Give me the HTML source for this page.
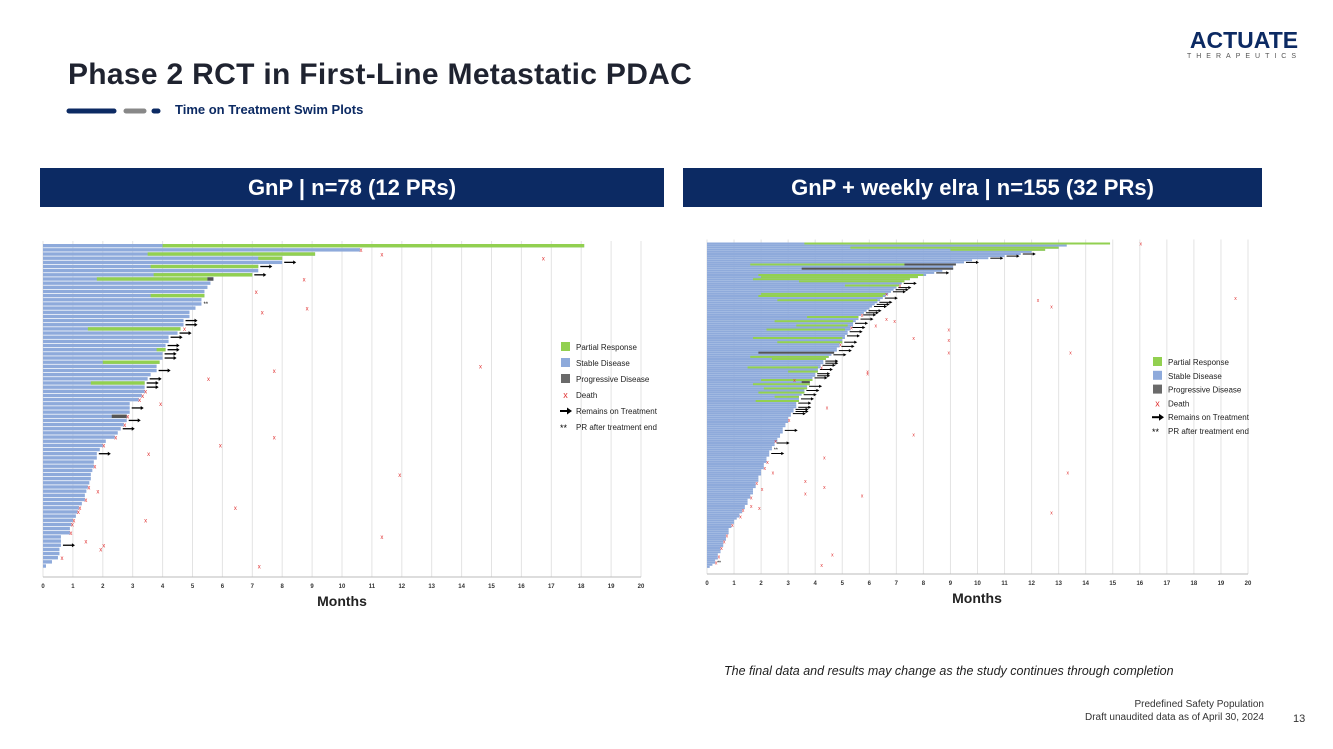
<!DOCTYPE html>
<html><head><meta charset="utf-8"><style>
body{margin:0;width:1333px;height:749px;background:#fff;font-family:"Liberation Sans",sans-serif;position:relative;overflow:hidden}
.abs{position:absolute}
.hdr{position:absolute;background:#0c2a63;color:#fff;font-weight:bold;font-size:22px;text-align:center;line-height:39px;height:39px;top:168px}
</style></head><body>
<div class="abs" style="left:68px;top:58px;font-size:30px;font-weight:bold;color:#1f2330;letter-spacing:0.3px">Phase 2 RCT in First-Line Metastatic PDAC</div>
<svg class="abs" style="left:66px;top:107px" width="100" height="8"><line x1="3" y1="4" x2="48" y2="4" stroke="#0c2a63" stroke-width="5" stroke-linecap="round"/><line x1="60" y1="4" x2="78" y2="4" stroke="#888" stroke-width="5" stroke-linecap="round"/><line x1="88" y1="4" x2="92" y2="4" stroke="#0c2a63" stroke-width="5" stroke-linecap="round"/></svg>
<div class="abs" style="left:175px;top:102px;font-size:13px;font-weight:bold;color:#0c2a63">Time on Treatment Swim Plots</div>
<div class="abs" style="left:1186px;top:28px;width:116px;text-align:center;color:#0c2a63"><div style="font-size:23px;font-weight:bold;line-height:25px">ACTUATE</div><div style="font-size:7px;letter-spacing:5px;color:#555">THERAPEUTICS</div></div>
<div class="hdr" style="left:40px;width:624px">GnP | n=78 (12 PRs)</div>
<div class="hdr" style="left:683px;width:579px">GnP + weekly elra | n=155 (32 PRs)</div>
<svg id="chart" class="abs" style="left:0;top:0" width="1333" height="749"></svg>
<div class="abs" style="left:724px;top:664px;font-size:12.5px;font-style:italic;color:#222">The final data and results may change as the study continues through completion</div>
<div class="abs" style="left:1000px;top:698px;width:264px;text-align:right;font-size:10px;color:#333;line-height:13px">Predefined Safety Population<br>Draft unaudited data as of April 30, 2024</div>
<div class="abs" style="left:1293px;top:713px;font-size:11px;color:#333">13</div>
<script>
const ticks=[0,1,2,3,4,5,6,7,8,9,10,11,12,13,14,15,16,17,18,19,20];
const legendLabels=["Partial Response","Stable Disease","Progressive Disease","Death","Remains on Treatment","PR after treatment end"];
// Left: GnP
const leftTotal=[18.1,10.6,9.1,8.0,8.0,7.2,7.2,7.0,5.7,5.6,5.5,5.4,5.4,5.3,5.3,5.1,4.9,4.9,4.7,4.7,4.6,4.5,4.2,4.2,4.1,4.1,4.0,4.0,3.9,3.8,3.8,3.6,3.5,3.4,3.4,3.4,3.3,3.2,2.9,2.9,2.9,2.8,2.8,2.7,2.6,2.5,2.4,2.1,2.0,1.9,1.8,1.8,1.7,1.7,1.65,1.6,1.6,1.55,1.5,1.45,1.4,1.4,1.3,1.2,1.15,1.1,1.0,0.95,0.9,0.9,0.6,0.6,0.6,0.55,0.55,0.5,0.3,0.1];
const leftPR=[[1,4.0,18.1],[3,3.5,9.1],[4,7.2,8.0],[6,3.6,7.2],[8,3.7,7.0],[9,1.8,5.5],[13,3.6,5.4],[21,1.5,4.6],[26,3.8,4.1],[29,2.0,3.9],[34,1.6,3.4]];
const leftPD=[[9,5.5,5.7],[42,2.3,2.8]];
const leftArrows=[5,6,8,19,20,22,23,25,26,27,28,31,33,34,35,40,43,45,51,73];
const leftDeaths=[[2,10.6],[3,11.3],[4,16.7],[9,8.7],[12,7.1],[16,8.8],[17,7.3],[21,4.7],[30,14.6],[31,7.7],[33,5.5],[36,3.4],[37,3.3],[38,3.2],[39,3.9],[42,2.8],[44,2.7],[47,2.4],[47,7.7],[49,2.0],[49,5.9],[51,3.5],[54,1.7],[56,11.9],[59,1.5],[60,1.8],[62,1.4],[64,6.4],[64,1.2],[65,1.15],[67,1.0],[67,3.4],[68,0.95],[70,0.9],[71,11.3],[72,1.4],[73,2.0],[74,1.9],[76,0.6],[78,7.2]];
const leftDouble=[15];
// Right: GnP + weekly elra
const rightTotal=[14.9,13.3,13.0,12.5,12.0,11.6,11.0,10.4,9.8,9.5,9.2,9.1,9.1,8.7,8.4,8.1,7.8,7.5,7.3,7.2,7.1,7.0,6.9,6.8,6.7,6.6,6.5,6.4,6.3,6.2,6.1,6.0,5.9,5.8,5.7,5.6,5.6,5.5,5.4,5.4,5.3,5.3,5.2,5.2,5.1,5.1,5.0,5.0,4.9,4.9,4.8,4.8,4.7,4.6,4.5,4.4,4.3,4.3,4.2,4.2,4.1,4.1,4.0,4.0,3.9,3.9,3.8,3.8,3.7,3.7,3.6,3.6,3.5,3.4,3.4,3.4,3.3,3.3,3.3,3.2,3.2,3.1,3.1,3.0,3.0,3.0,2.9,2.9,2.8,2.8,2.8,2.7,2.7,2.6,2.6,2.5,2.5,2.4,2.4,2.3,2.3,2.3,2.2,2.2,2.2,2.1,2.1,2.1,2.0,2.0,2.0,1.9,1.9,1.9,1.8,1.8,1.8,1.7,1.7,1.7,1.6,1.6,1.5,1.5,1.5,1.4,1.4,1.3,1.3,1.2,1.2,1.1,1.0,1.0,0.9,0.9,0.8,0.8,0.8,0.7,0.7,0.7,0.6,0.6,0.6,0.5,0.5,0.5,0.4,0.4,0.4,0.3,0.3,0.2,0.1];
const rightPR=[[1,3.6,14.9],[3,5.3,13.0],[4,9.0,12.5],[11,1.6,7.3],[16,1.9,8.0],[17,2.0,7.8],[18,1.7,7.5],[19,3.4,7.3],[21,5.1,7.1],[25,2.0,6.6],[26,1.9,6.5],[28,2.6,6.3],[36,3.7,5.6],[38,2.5,5.4],[40,3.3,5.2],[42,2.2,5.1],[46,1.7,5.0],[48,2.6,5.0],[55,1.6,4.5],[56,2.4,4.4],[60,1.5,4.1],[62,3.0,4.1],[66,2.0,3.9],[68,1.7,3.8],[70,2.1,3.7],[72,1.9,3.6],[74,2.5,3.4],[76,1.8,3.4]];
const rightPD=[[11,7.3,9.2],[13,3.5,9.1],[53,1.9,4.7],[67,3.5,3.8]];
const rightArrows=[6,7,8,10,15,20,22,23,24,27,29,30,31,33,34,35,37,39,41,43,45,48,50,52,54,57,58,59,61,63,64,65,69,71,73,75,77,79,80,81,82,90,96,101];
const rightDeaths=[[1,16.0],[21,7.1],[25,6.6],[27,19.5],[28,12.2],[31,12.7],[35,5.7],[37,6.6],[38,6.9],[40,6.2],[41,5.3],[42,8.9],[46,7.6],[47,8.9],[49,4.9],[53,8.9],[53,13.4],[60,4.2],[62,5.9],[63,5.9],[66,3.2],[79,4.4],[85,3.0],[92,7.6],[95,2.5],[103,4.3],[105,2.2],[108,2.1],[110,13.3],[110,2.4],[114,3.6],[115,1.8],[117,4.3],[118,2.0],[120,3.6],[121,5.7],[122,1.6],[126,1.6],[127,1.9],[128,1.3],[129,12.7],[131,1.2],[135,0.9],[140,0.7],[143,0.6],[146,0.5],[149,4.6],[150,0.4],[153,0.3],[154,4.2]];
const rightDouble=[99,153];

const svg=document.getElementById('chart');
const NS='http://www.w3.org/2000/svg';
function mk(t,a,p){const e=document.createElementNS(NS,t);for(const k in a)e.setAttribute(k,a[k]);(p||svg).appendChild(e);return e;}
function plot(c,total,pr,pd,arrows,deaths,dbl){
  const g=mk('g',{});
  
  
  const X=v=>c.x0+v*c.px, Y=i=>c.top+(i-1)*c.rh;
  ticks.forEach(t=>{
    const gl=mk('line',{x1:X(t),x2:X(t),y1:c.top-3,y2:c.axisY,stroke:'#e3e3e3','stroke-width':1},g);
    
    
    const tl=mk('text',{x:X(t),y:c.axisY+11,'font-size':6,'font-weight':'bold','text-anchor':'middle',fill:'#333'},g);
    tl.textContent=t;
    
    
  });
  mk('line',{x1:X(0),x2:X(20),y1:c.axisY,y2:c.axisY,stroke:'#bbb'},g);
  const bh=c.rh*c.bf;
  total.forEach((v,i)=>{
    const r=mk('rect',{x:X(0),y:Y(i+1),width:v*c.px,height:bh,fill:'#8eaadb'},g);
    
    
  });
  pr.forEach(p=>{
    const r=mk('rect',{x:X(p[1]),y:Y(p[0]),width:(p[2]-p[1])*c.px,height:bh,fill:'#92d050'},g);
    
    
  });
  pd.forEach(p=>{
    const r=mk('rect',{x:X(p[1]),y:Y(p[0]),width:(p[2]-p[1])*c.px,height:bh,fill:'#555'},g);
    
    
  });
  arrows.forEach(i=>{
    const x=X(total[i-1])+2,y=Y(i)+bh/2,L=c.al;
    const a=mk('g',{},g);
    
    
    mk('line',{x1:x,x2:x+L,y1:y,y2:y,stroke:'#000','stroke-width':c.aw},a);
    mk('polygon',{points:`${x+L+2},${y} ${x+L-1},${y-c.ah} ${x+L-1},${y+c.ah}`,fill:'#000'},a);
  });
  deaths.forEach(d=>{
    const t=mk('text',{x:X(d[1])+1,y:Y(d[0])+c.dy,'font-size':c.fs,fill:'#e03030','text-anchor':'middle'},g);
    t.textContent='x';
    
    
  });
  dbl.forEach(i=>{
    const t=mk('text',{x:X(total[i-1])+2,y:Y(i)+c.dy,'font-size':c.fs,fill:'#000'},g);
    t.textContent='**';
    
    
  });
  const ml=mk('text',{x:c.mx,y:c.axisY+29,'font-size':14,'font-weight':'bold','text-anchor':'middle',fill:'#222'},g);
  ml.textContent='Months';
  
  
  const lg=mk('g',{},g);
  
  
  const cols=['#92d050','#8eaadb','#6a6a6a'];
  legendLabels.forEach((lab,k)=>{
    const y=c.ly+k*c.ls;
    if(k<3) mk('rect',{x:c.lx,y:y-8,width:9,height:9,fill:cols[k]},lg);
    else if(k==3){const t=mk('text',{x:c.lx+4.5,y:y,'font-size':9,fill:'#e03030','text-anchor':'middle'},lg);t.textContent='x';}
    else if(k==4){mk('line',{x1:c.lx-1,x2:c.lx+7,y1:y-3,y2:y-3,stroke:'#000','stroke-width':2},lg);mk('polygon',{points:`${c.lx+11},${y-3} ${c.lx+6},${y-6.5} ${c.lx+6},${y+0.5}`,fill:'#000'},lg);}
    else {const t=mk('text',{x:c.lx-1,y:y+1,'font-size':9,fill:'#000'},lg);t.textContent='**';}
    const t=mk('text',{x:c.lx+15,y:y,'font-size':8,fill:'#222'},lg);
    t.textContent=lab;
    
    
  });
}
plot({name:'gnp-swim-plot',x0:43,px:29.9,top:244,rh:4.16,bf:0.82,axisY:577,al:10,aw:1.3,ah:2,fs:6,dy:4,mx:342,lx:561,ly:350,ls:16},leftTotal,leftPR,leftPD,leftArrows,leftDeaths,leftDouble);
plot({name:'elra-swim-plot',x0:707,px:27.05,top:242.5,rh:2.1,bf:0.95,axisY:574,al:11,aw:1,ah:1.6,fs:5,dy:3,mx:977,lx:1153,ly:365,ls:13.8},rightTotal,rightPR,rightPD,rightArrows,rightDeaths,rightDouble);
</script>
</body></html>
